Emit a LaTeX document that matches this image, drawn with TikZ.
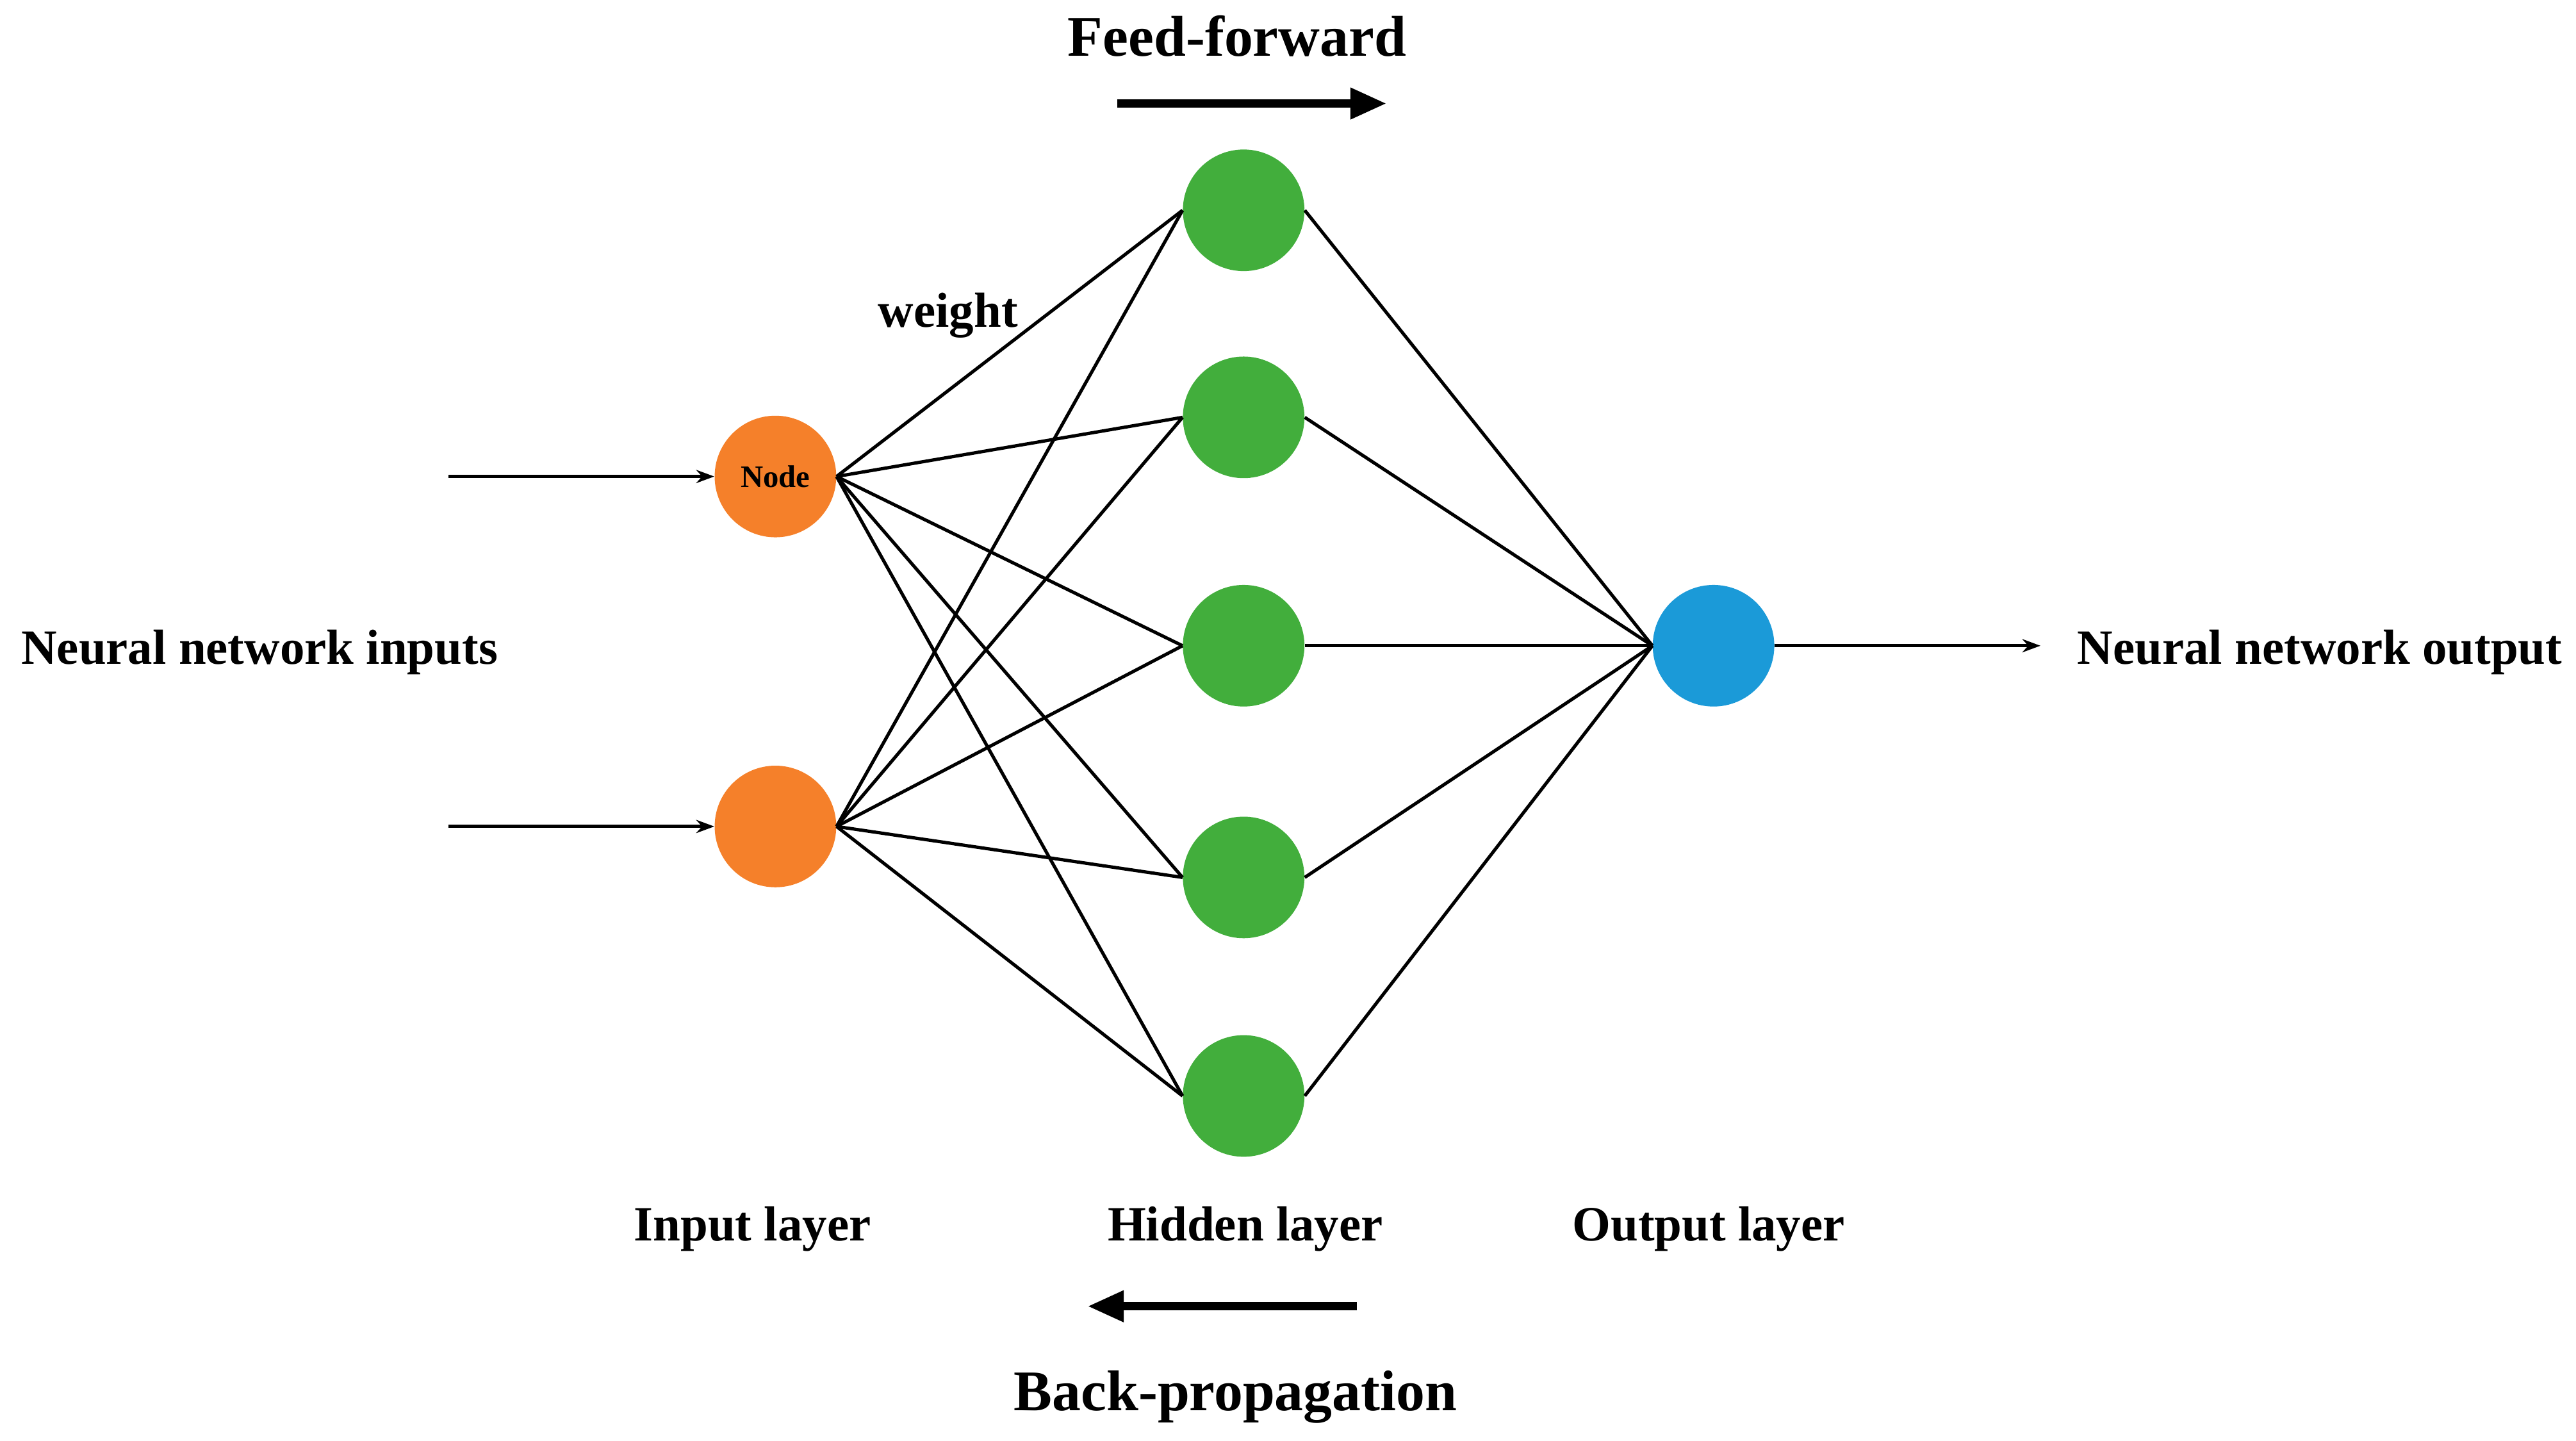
\documentclass[tikz,border=0pt]{standalone}
\usepackage{fontspec}
\setmainfont{Liberation Serif}
\usetikzlibrary{arrows.meta}
\definecolor{orng}{HTML}{F5802A}
\definecolor{grn}{HTML}{42AE3C}
\definecolor{blu}{HTML}{1B9AD8}
\begin{document}
\begin{tikzpicture}[x=1pt,y=-1pt,
  neuron/.style={circle,minimum size=74pt,inner sep=0pt,draw=none},
  lbl/.style={font=\fontsize{30}{33}\selectfont\bfseries,inner sep=0pt},
  title/.style={font=\fontsize{35}{38}\selectfont\bfseries,inner sep=0pt},
  conn/.style={line width=2pt},
  big/.style={line width=5pt,-{Triangle[length=22pt,width=18pt]}},
  small/.style={line width=2pt,-{Stealth[length=11pt,width=8pt]}}]
\useasboundingbox (0,0) rectangle (1568,877);
\node[neuron,fill=orng,font=\fontsize{19}{20}\selectfont\bfseries] (i1) at (472,290) {Node};
\node[neuron,fill=orng] (i2) at (472,503) {};
\foreach \n/\y in {1/128,2/254,3/393,4/534,5/667}
  \node[neuron,fill=grn] (h\n) at (757,\y) {};
\node[neuron,fill=blu] (o) at (1043,393) {};
\foreach \i in {1,2}
  \foreach \n in {1,...,5}
    \draw[conn] (i\i.east) -- (h\n.west);
\foreach \n in {1,...,5}
  \draw[conn] (h\n.east) -- (o.west);
\coordinate (a1) at (273,290);
\coordinate (a2) at (273,503);
\coordinate (oe) at (1242,393);
\draw[small] (a1) -- (i1.west);
\draw[small] (a2) -- (i2.west);
\draw[small] (o.east) -- (oe);
\node[lbl] (nin) at (158,397) {Neural network inputs};
\node[lbl] (nout) at (1412,397) {Neural network output};
\node[lbl] (w) at (577,192) {weight};
\node[title] (ff) at (753,22) {Feed-forward};
\coordinate (f1) at (680,63);
\coordinate (f2) at (844,63);
\draw[big] (f1) -- (f2);
\node[lbl] (il) at (458,748) {Input layer};
\node[lbl] (hl) at (758,748) {Hidden layer};
\node[lbl] (ol) at (1040,748) {Output layer};
\coordinate (b1) at (826,795);
\coordinate (b2) at (662,795);
\draw[big] (b1) -- (b2);
\node[title] (bp) at (752,850) {Back-propagation};
\end{tikzpicture}
\end{document}
